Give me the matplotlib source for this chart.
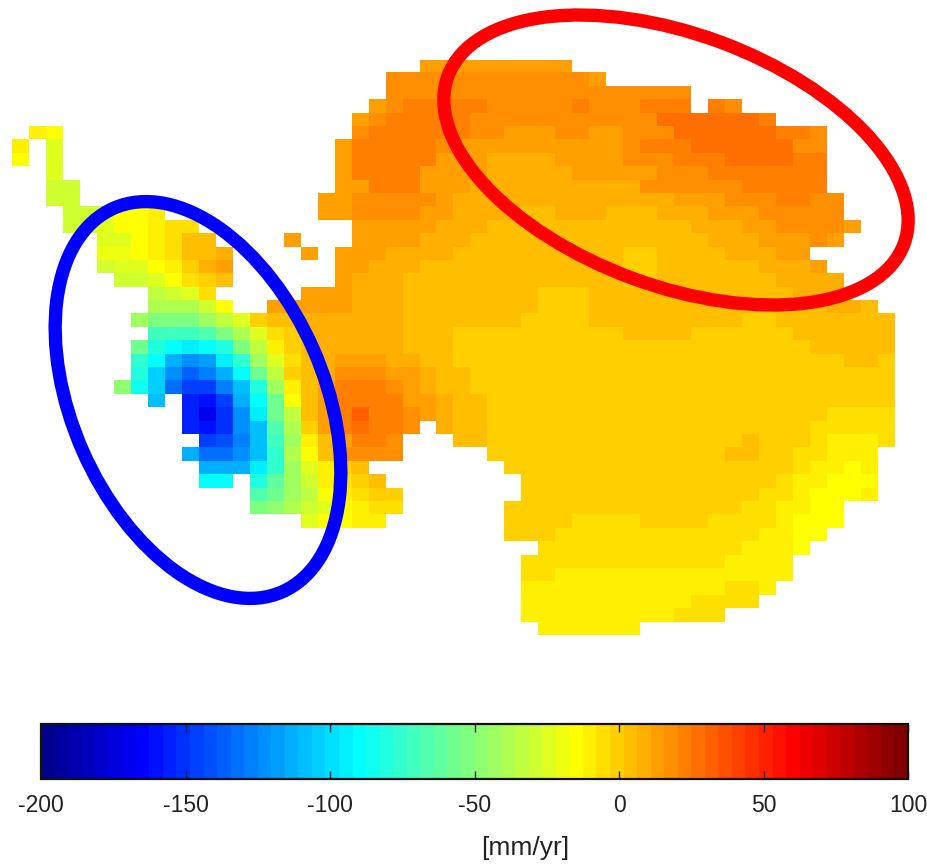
import numpy as np
import matplotlib
matplotlib.use("Agg")
import matplotlib.pyplot as plt
from matplotlib.patches import Ellipse
from matplotlib.colors import ListedColormap

plt.rcParams['font.family'] = ['Liberation Sans', 'DejaVu Sans']

N = float('nan')
# Mass-balance rate [mm/yr] per grid row (gaps are NaN)
R00 = [N]*24 + [13]*3 + [11]*6
R01 = [N]*22 + [16]*12 + [13]
R02 = [N]*22 + [16] + [20]*5 + [16]*6 + [17]*6
R03 = [N]*21 + [13, 16] + [21]*5 + [17]*5 + [21] + [19]*3 + [24]*3 + [N] + [23, 20]
R04 = [N]*20 + [13, 16] + [21]*5 + [16]*7 + [19]*4 + [26]*6 + [22]
R05 = [N, -11, -15] + [N]*17 + [16] + [21]*6 + [16]*2 + [12]*3 + [16]*2 + [15]*2 + [20]*3 + [27]*6 + [22]*2 + [18]
R06 = [-11, N, -22] + [N]*16 + [13] + [21]*5 + [16, 14] + [13]*7 + [15]*2 + [18] + [22]*3 + [28]*6 + [20, 17]
R07 = [-15, N, -22] + [N]*16 + [13] + [21]*5 + [13]*3 + [9]*4 + [13]*4 + [18]*3 + [23]*3 + [28]*4 + [21]*2
R08 = [N, N, -24] + [N]*16 + [13] + [21]*4 + [15]*2 + [12]*2 + [9]*5 + [12] + [14]*4 + [18]*3 + [22]*7
R09 = [N, N, -27, -27] + [N]*15 + [13, 15] + [21]*3 + [15] + [13]*2 + [9] + [9]*9 + [16]*3 + [18]*3 + [22]*5
R10 = [N, N, -27, -27] + [N]*14 + [11]*2 + [16]*5 + [14] + [9]*13 + [14]*3 + [19]*3 + [22]*2 + [18]*2
R11 = [N]*3 + [-27, -27, -24, -15, -15, -9] + [N]*9 + [11]*2 + [16]*4 + [13]*2 + [9]*4 + [6]*2 + [9]*3 + [4]*3 + [9]*3 + [14]*3 + [18]*5
R12 = [N]*3 + [-27, -27, -22, -15, -15, -10, -6, -6] + [N]*9 + [13]*5 + [9]*3 + [4]*12 + [9]*3 + [11]*2 + [16]*4 + [12]
R13 = [N]*5 + [-22, -22, -17, -9, -6, 4, 4] + [N]*4 + [11] + [N]*3 + [13]*4 + [9]*3 + [4]*14 + [9]*3 + [12]*3 + [16, 13]
R14 = [N]*5 + [-21, -21, -17, -9, -6, 3, 4, 10] + [N]*4 + [14, N] + [13]*3 + [9]*4 + [4]*10 + [-1]*2 + [4]*4 + [9]*3 + [11]*2
R15 = [N]*5 + [-30, -23, -23, -15, -9, -2, 9, 11] + [N]*6 + [13]*2 + [9]*3 + [4]*12 + [-1]*2 + [4]*6 + [9]*3 + [12]
R16 = [N]*6 + [-27, -27, -22, -15, -4, -1, 4] + [N]*6 + [13] + [9]*3 + [4]*13 + [-1]*2 + [4]*7 + [9]*4
R17 = [N]*8 + [-32, -30, -23, -4] + [N]*5 + [15, 11, 11] + [9]*3 + [4]*8 + [-1]*3 + [4]*12 + [9]*3
R18 = [N]*8 + [-40, -40, -36, -27, -15] + [N]*2 + [11]*5 + [9]*3 + [4]*8 + [-1]*3 + [4]*14 + [7]*2 + [4]
R19 = [N]*7 + [-43, -52, -52, -52, -45, -32, -22, -1, 4, 6] + [9]*3 + [9]*3 + [4]*7 + [-1]*4 + [4]*9 + [-1]*2 + [4]*7
R20 = [N]*8 + [-71, -71, -71, -67, -54, -37, -23, -5, 1, 7, 10, 10] + [9]*3 + [4]*3 + [-1]*10 + [4]*4 + [-1]*6 + [4]*6
R21 = [N]*7 + [-59, -81, -92, -96, -92, -79, -54, -35, -10, -3, 6, 10, 10] + [9]*3 + [4]*3 + [-1]*21 + [4]*5
R22 = [N]*7 + [-75, -92, -114, -122, -118, -96, -74, -44, -24, -6, 4, 10] + [12]*3 + [9]*2 + [4]*2 + [-1]*23 + [4]*2 + [-1]
R23 = [N]*7 + [-79, -105, -125, -137, -129, -114, -92, -57, -32, -3, 4, 10] + [17]*3 + [13, 11, 9, 4, 4] + [-1]*25
R24 = [N]*6 + [-49, -84, -105, -133, -145, -145, -129, -107, -81, -44, -10, 4, 13] + [21]*3 + [16, 11, 9, 6, 4] + [-1]*25
R25 = [N]*8 + [-108, N, -155, -160, -145, -115, -92, -57, -15, 4, 14] + [24]*3 + [21, 13, 13, 9, 4, 4] + [-1]*24
R26 = [N]*10 + [-155, -168, -152, -122, -96, -59, -32, 4, 14, 22, 30, 24, 24, 16, 13, 9, 6, 4] + [-1]*20 + [-6]*4
R27 = [N]*10 + [-155, -160, -152, -125, -108, -67, -37, 1, 14, 22, 28, 24, 24, 16, N, 9, 6, 4] + [-1]*19 + [-6]*5
R28 = [N]*11 + [-145, -143, -129, -110, -71, -43, -9, 4, 14, 24, 24, 20] + [N]*3 + [3, 3] + [-1]*15 + [3] + [-1]*3 + [-6, -11, -11, -11, -6]
R29 = [N]*10 + [-114, -133, -133, -125, -107, -74, -40, -15, 2, 16, 18, 18, 18] + [N]*5 + [-1]*14 + [3, 3, -1, -1, -6, -6, -11, -11, -11]
R30 = [N]*11 + [-111, -115, -115, -96, -74, -43, -22, -10, -1, 6] + [N]*8 + [-1]*17 + [-6, -9, -9, -15, -11]
R31 = [N]*11 + [-90, -92, N, -81, -64, -43, -27, -12, -4, 1, 2] + [N]*8 + [-1]*15 + [-6, -10, -10, -15, -15, -15]
R32 = [N]*14 + [-67, -59, -43, -34, -16, -8, -6, -3, -3] + [N]*7 + [-1]*14 + [-6, -6, -11, -15, -15, -15, -8]
R33 = [N]*14 + [-54, -49, -40, -31, -24, -13, -10, -6, -6] + [N]*6 + [-1]*14 + [-6, -6, -11, -11, -15, -15]
R34 = [N]*17 + [-24, -17, -13, -10, -10] + [N]*7 + [-1]*4 + [-6]*4 + [-1]*4 + [-6]*4 + [-11, -15, -15, -15]
R35 = [N]*29 + [-1]*3 + [-6]*12 + [-11, -11, -15, -15]
R36 = [N]*31 + [-6]*12 + [-11]*3 + [-15]
R37 = [N]*30 + [-6]*12 + [-11]*4
R38 = [N]*30 + [-6]*2 + [-11]*14
R39 = [N]*30 + [-11]*12 + [-7, -7, -11]
R40 = [N]*30 + [-11]*10 + [-7]*4
R41 = [N]*30 + [-11]*9 + [-7]*3
R42 = [N]*31 + [-11]*6

rows = [R00, R01, R02, R03, R04, R05, R06, R07, R08, R09, R10, R11, R12, R13, R14,
        R15, R16, R17, R18, R19, R20, R21, R22, R23, R24, R25, R26, R27, R28, R29,
        R30, R31, R32, R33, R34, R35, R36, R37, R38, R39, R40, R41, R42]

cbar_ticks = [-200, -150, -100, -50, 0, 50, 100]
cbar_label = '[mm/yr]'
vmin, vmax = -200, 100

ncols = 52
grid = np.full((len(rows), ncols), np.nan)
for i, r in enumerate(rows):
    assert len(r) <= ncols, (i, len(r))
    grid[i, :len(r)] = r

W, H = 927, 866
fig = plt.figure(figsize=(W / 100, H / 100), dpi=100, facecolor='white')

def px_axes(x0, y0, x1, y1, **kw):
    return fig.add_axes([x0 / W, 1 - y1 / H, (x1 - x0) / W, (y1 - y0) / H], **kw)

# MATLAB-style jet with 64 levels
t = np.arange(1, 65) / 64
cmap = ListedColormap(np.clip(np.column_stack([1.5 - np.abs(4 * t - 3),
                                               1.5 - np.abs(4 * t - 2),
                                               1.5 - np.abs(4 * t - 1)]), 0, 1))
cmap.set_bad((1, 1, 1, 0))

ax = px_axes(12, 59.6, 895, 634.8)
im = ax.imshow(grid, cmap=cmap, vmin=vmin, vmax=vmax, aspect='auto', interpolation='nearest')
ax.axis('off')

over = px_axes(0, 0, W, H)
over.set_xlim(0, W)
over.set_ylim(H, 0)
over.axis('off')
over.patch.set_alpha(0)
over.add_patch(Ellipse((676, 160), 486, 252, angle=20.2, fill=False, edgecolor='#ff0000', linewidth=9.6))
over.add_patch(Ellipse((198, 400), 419, 252, angle=66.3, fill=False, edgecolor='#0000ff', linewidth=9.6))

cax = px_axes(41, 723.5, 908, 778.5)
cb = fig.colorbar(im, cax=cax, orientation='horizontal')
cb.set_ticks(cbar_ticks)
cb.ax.tick_params(axis='x', direction='in', top=True, bottom=True, length=6, width=1,
                  labelsize=16.5, pad=11, colors='#222222')
cb.outline.set_linewidth(1.6)
cb.outline.set_edgecolor('#111111')
cb.set_label(cbar_label, fontsize=19, color='#222222')
cax.xaxis.set_label_coords((525 - 41) / 867, -1.27, transform=cax.transAxes)
cax.xaxis.label.set_verticalalignment('center')
cb.ax.set_xticklabels([str(t_) for t_ in cbar_ticks])

fig.savefig('out.png', dpi=100, facecolor='white')
